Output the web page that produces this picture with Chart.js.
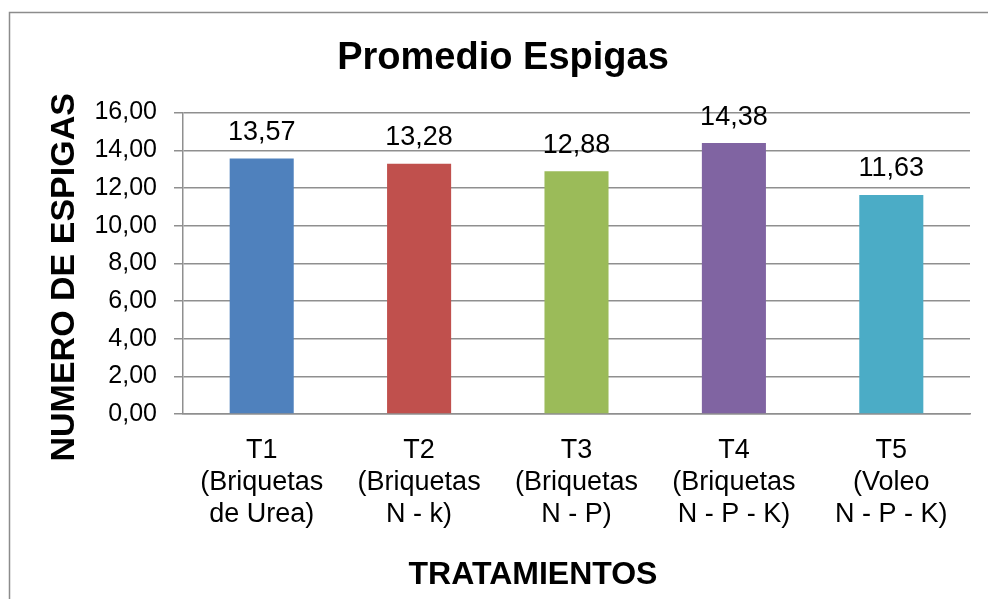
<!DOCTYPE html>
<html>
<head>
<meta charset="utf-8">
<script src="https://cdn.jsdelivr.net/npm/chart.js@4/dist/chart.umd.min.js"></script>
<style>
    html, body { margin: 0; padding: 0; background: #fff; }
    #wrap { width: 988px; height: 599px; position: relative; }
</style>
</head>
<body>
<div id="wrap"><canvas id="chart"></canvas></div>
<script>
// Data
const categories = [
    ['T1', '(Briquetas', 'de Urea)'],
    ['T2', '(Briquetas', 'N - k)'],
    ['T3', '(Briquetas', 'N - P)'],
    ['T4', '(Briquetas', 'N - P - K)'],
    ['T5', '(Voleo', 'N - P - K)']
];
const espigas = [13.57, 13.28, 12.88, 14.38, 11.63];
const barColors = ['#4F81BD', '#C0504D', '#9BBB59', '#8064A2', '#4BACC6'];
const yTicks = { min: 0, max: 16, step: 2 };

const chartTitle = 'Promedio Espigas';
const xTitle = 'TRATAMIENTOS';
const yTitle = 'NUMERO DE ESPIGAS';

const FONT = '"Liberation Sans", Arial, sans-serif';
const GRID = '#8f8f8f';

const fmt = v => v.toFixed(2).replace('.', ',');

// Frame, axis titles and value labels
const decorPlugin = {
    id: 'decor',
    beforeDraw(chart) {
        const ctx = chart.ctx;
        ctx.save();
        ctx.strokeStyle = '#8c8c8c';
        ctx.lineWidth = 1.5;
        ctx.strokeRect(9.5, 12.5, 1200, 800);
        ctx.restore();
    },
    afterDraw(chart) {
        const ctx = chart.ctx;
        const area = chart.chartArea;
        ctx.save();
        ctx.fillStyle = '#000';
        ctx.textAlign = 'center';
        ctx.textBaseline = 'middle';

        // value labels above bars
        ctx.font = '27px ' + FONT;
        const meta = chart.getDatasetMeta(0);
        meta.data.forEach((bar, i) => {
            ctx.fillText(fmt(espigas[i]), bar.x, bar.y - 26);
        });

        // x axis title
        ctx.font = 'bold 32px ' + FONT;
        ctx.fillText(xTitle, area.left + 350, area.bottom + 161);

        // y axis title
        ctx.translate(area.left - 118, (area.top + area.bottom) / 2 + 14);
        ctx.rotate(-Math.PI / 2);
        ctx.font = 'bold 34px ' + FONT;
        ctx.fillText(yTitle, 0, 0);
        ctx.restore();
    }
};

new Chart(document.getElementById('chart').getContext('2d'), {
    type: 'bar',
    data: {
        labels: categories,
        datasets: [{
            data: espigas,
            backgroundColor: barColors,
            borderWidth: 0,
            categoryPercentage: 1,
            barPercentage: 0.407
        }]
    },
    options: {
        responsive: true,
        maintainAspectRatio: false,
        animation: false,
        layout: { padding: { left: 36, right: 18, top: 0, bottom: 0 } },
        plugins: {
            legend: { display: false },
            tooltip: { enabled: false },
            title: {
                display: true,
                text: chartTitle,
                color: '#000',
                font: { family: FONT, size: 38, weight: 'bold', lineHeight: 1.2 },
                padding: { top: 36, bottom: 31 }
            }
        },
        scales: {
            x: {
                grid: { display: false, drawTicks: false },
                border: { display: true, color: GRID, width: 1.5 },
                ticks: {
                    color: '#000',
                    padding: 20,
                    maxRotation: 0,
                    autoSkip: false,
                    font: { family: FONT, size: 27, lineHeight: 1.2 }
                },
                afterFit: scale => { scale.height = 185; }
            },
            y: {
                min: yTicks.min,
                max: yTicks.max,
                grid: { color: GRID, lineWidth: 1.5, tickLength: 9 },
                border: { display: true, color: GRID, width: 1.5 },
                ticks: {
                    stepSize: yTicks.step,
                    color: '#000',
                    padding: 17,
                    font: { family: FONT, size: 25 },
                    callback: v => fmt(v)
                },
                afterFit: scale => { scale.width = 147; }
            }
        }
    },
    plugins: [decorPlugin]
});
</script>
</body>
</html>
